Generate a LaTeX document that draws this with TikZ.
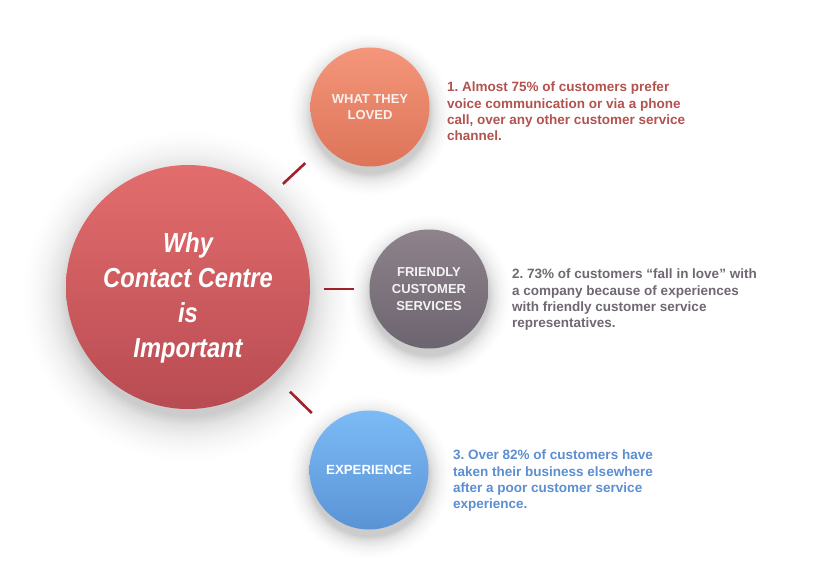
\documentclass[tikz,border=0pt]{standalone}
\usepackage{fontspec}
\setmainfont{Liberation Sans}
\newfontfamily\titlefont[FakeStretch=0.86]{Liberation Sans}
\usetikzlibrary{calc}

\definecolor{mainTop}{HTML}{E36D6D}
\definecolor{mainBot}{HTML}{B84B52}
\definecolor{lovTop}{HTML}{F4967A}
\definecolor{lovBot}{HTML}{DD7458}
\definecolor{friTop}{HTML}{8E838B}
\definecolor{friBot}{HTML}{6C6470}
\definecolor{expTop}{HTML}{7CBBF6}
\definecolor{expBot}{HTML}{5A93D5}
\definecolor{linkRed}{HTML}{A3202B}
\definecolor{txtRed}{HTML}{B3524E}
\definecolor{txtGray}{HTML}{6F6871}
\definecolor{txtBlue}{HTML}{5B8ED2}

% soft round shadow: flat up to the circle's rim, then fading out
\pgfdeclareradialshading{halo}{\pgfpoint{0cm}{0cm}}{%
  color(0bp)=(black!20); color(18bp)=(black!20); color(19.5bp)=(black!11);
  color(21.5bp)=(black!5); color(23.5bp)=(black!1.5); color(25bp)=(white);
  color(50bp)=(white)}

\tikzset{
  bubble/.style={circle, inner sep=0pt, align=center},
  small/.style={bubble, minimum size=119pt,
    font=\bfseries\fontsize{13}{16.8}\selectfont},
  note/.style={anchor=north west, inner sep=0pt, align=left,
    font=\bfseries\fontsize{13.5}{16.2}\selectfont},
  link/.style={draw=linkRed, line width=2.6pt},
  halo/.style={shading=halo}
}

\begin{document}
\frenchspacing
\begin{tikzpicture}[x=1pt, y=-1pt]
  \useasboundingbox (0,0) rectangle (830,583);
  \fill[white] (0,0) rectangle (830,583);

  % shadows
  \shade[halo] (188,296) circle (166);
  \shade[halo] (370,114) circle (82);
  \shade[halo] (429,296) circle (82);
  \shade[halo] (369,477) circle (82);

  % circles
  \node[bubble, minimum size=244pt, top color=mainTop, bottom color=mainBot]
    (main) at (188,287) {};
  \node[text=white, align=center,
    font=\titlefont\bfseries\itshape\fontsize{27.5}{35}\selectfont]
    (title) at ($(main)+(0,11)$) {Why\\Contact Centre\\is\\Important};
  \node[small, top color=lovTop, bottom color=lovBot, text=white!86!lovTop]
    (loved) at (370,107) {WHAT THEY\\LOVED};
  \node[small, top color=friTop, bottom color=friBot, text=white!90!friTop]
    (friendly) at (429,289) {FRIENDLY\\CUSTOMER\\SERVICES};
  \node[small, top color=expTop, bottom color=expBot, text=white,
    font=\bfseries\fontsize{13.3}{17}\selectfont]
    (exper) at (369,470) {EXPERIENCE};

  % connectors
  \draw[link, shorten <=18pt, shorten >=26pt] (main.48) -- (loved.220);
  \draw[link, shorten <=14pt, shorten >=15pt] (main.east |- friendly) -- (friendly.west);
  \draw[link, shorten <=24pt, shorten >=21pt] (main.-46) -- (exper.135);

  % notes
  \node[note, text=txtRed] (t1) at (447,82)
    {1. Almost 75\% of customers prefer\\voice communication or via a phone\\call, over any other customer service\\channel.};
  \node[note, text=txtGray] (t2) at (512,269)
    {2. 73\% of customers “fall in love” with\\a company because of experiences\\with friendly customer service\\representatives.};
  \node[note, text=txtBlue] (t3) at (453,450)
    {3. Over 82\% of customers have\\taken their business elsewhere\\after a poor customer service\\experience.};
\end{tikzpicture}
\end{document}
